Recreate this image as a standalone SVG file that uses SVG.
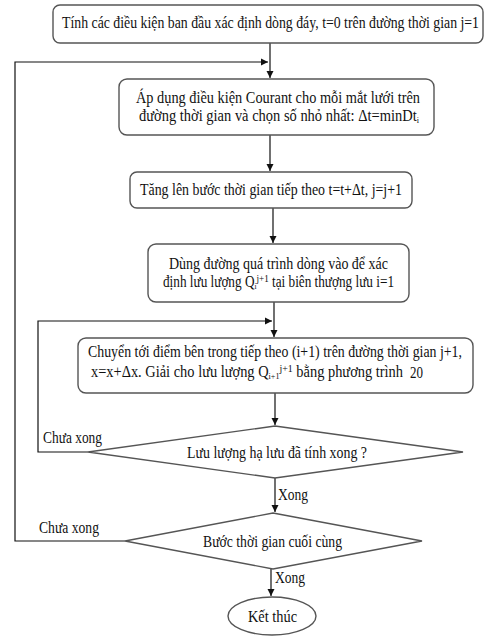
<svg xmlns="http://www.w3.org/2000/svg" width="484" height="637" viewBox="0 0 484 637">
<style>
.box{fill:#fff;stroke:#555;stroke-width:1.4}
.ln{fill:none;stroke:#111;stroke-width:1.2}
text{font-family:"Liberation Serif","Times New Roman","DejaVu Serif",serif;font-size:16px;fill:#111}
</style>
<defs>
<marker id="ah" markerWidth="8" markerHeight="8" refX="7" refY="4" orient="auto" markerUnits="userSpaceOnUse">
<path d="M0,0.5 L7,4 L0,7.5 Z" fill="#111"/>
</marker>
</defs>
<rect width="484" height="637" fill="#fff"/>
<g id="connectors">
<line class="ln" x1="270" y1="43" x2="270" y2="78" marker-end="url(#ah)"/>
<path class="ln" d="M125,541 H15 V62 H268" marker-end="url(#ah)"/>
<line class="ln" x1="270" y1="135" x2="270" y2="171" marker-end="url(#ah)"/>
<line class="ln" x1="273" y1="208" x2="273" y2="243" marker-end="url(#ah)"/>
<line class="ln" x1="274" y1="302" x2="274" y2="337" marker-end="url(#ah)"/>
<path class="ln" d="M88,452 H38 V321 H272" marker-end="url(#ah)"/>
<line class="ln" x1="275" y1="393" x2="275" y2="425" marker-end="url(#ah)"/>
<line class="ln" x1="275" y1="478" x2="275" y2="512" marker-end="url(#ah)"/>
<line class="ln" x1="271" y1="569" x2="271" y2="596" marker-end="url(#ah)"/>
<text x="43" y="443" textLength="59" lengthAdjust="spacingAndGlyphs">Chưa xong</text>
<text x="39" y="533" textLength="60" lengthAdjust="spacingAndGlyphs">Chưa xong</text>
<text x="278" y="500" textLength="30" lengthAdjust="spacingAndGlyphs">Xong</text>
<text x="275" y="583" textLength="30" lengthAdjust="spacingAndGlyphs">Xong</text>
</g>
<g id="start">
<rect class="box" x="53" y="5" width="430" height="38" rx="7"/>
<text x="62" y="28" textLength="417" lengthAdjust="spacingAndGlyphs">Tính các điều kiện ban đầu xác định dòng đáy, t=0 trên đường thời gian j=1</text>
</g>
<g id="courant">
<rect class="box" x="119" y="79" width="315" height="56" rx="8"/>
<text x="136" y="103" textLength="284" lengthAdjust="spacingAndGlyphs">Áp dụng điều kiện Courant cho mỗi mắt lưới trên</text>
<text x="139" y="121" textLength="280" lengthAdjust="spacingAndGlyphs">đường thời gian và chọn số nhỏ nhất: Δt=minDt<tspan font-size="9" dy="2">i</tspan></text>
</g>
<g id="step">
<rect class="box" x="130" y="172" width="282" height="36" rx="7"/>
<text x="140" y="195" textLength="262" lengthAdjust="spacingAndGlyphs">Tăng lên bước thời gian tiếp theo t=t+Δt, j=j+1</text>
</g>
<g id="inflow">
<rect class="box" x="148" y="244" width="261" height="58" rx="8"/>
<text x="169" y="269" textLength="219" lengthAdjust="spacingAndGlyphs">Dùng đường quá trình dòng vào để xác</text>
<text x="163" y="287" textLength="231" lengthAdjust="spacingAndGlyphs">định lưu lượng Q<tspan font-size="9" dy="2">i</tspan><tspan font-size="11" dy="-7">j+1</tspan><tspan dy="5"> tại biên thượng lưu i=1</tspan></text>
</g>
<g id="interior">
<rect class="box" x="78" y="338" width="395" height="55" rx="8"/>
<text x="88" y="357" textLength="374" lengthAdjust="spacingAndGlyphs">Chuyển tới điểm bên trong tiếp theo (i+1) trên đường thời gian j+1,</text>
<text x="91" y="377" textLength="312" lengthAdjust="spacingAndGlyphs">x=x+Δx. Giải cho lưu lượng Q<tspan font-size="9" dy="2">i+1</tspan><tspan font-size="11" dy="-7">j+1</tspan><tspan dy="5"> bằng phương trình</tspan></text>
<text x="410" y="378" font-size="13" textLength="13" lengthAdjust="spacingAndGlyphs">20</text>
</g>
<g id="check-downstream">
<polygon class="box" points="275,426 463,452 275,478 88,452"/>
<text x="187" y="458" textLength="180" lengthAdjust="spacingAndGlyphs">Lưu lượng hạ lưu đã tính xong ?</text>
</g>
<g id="check-last">
<polygon class="box" points="273,513 422,541 273,569 125,541"/>
<text x="203" y="547" textLength="139" lengthAdjust="spacingAndGlyphs">Bước thời gian cuối cùng</text>
</g>
<g id="end">
<ellipse class="box" cx="272" cy="616" rx="44" ry="19"/>
<text x="248" y="622" textLength="49" lengthAdjust="spacingAndGlyphs">Kết thúc</text>
</g>
</svg>
